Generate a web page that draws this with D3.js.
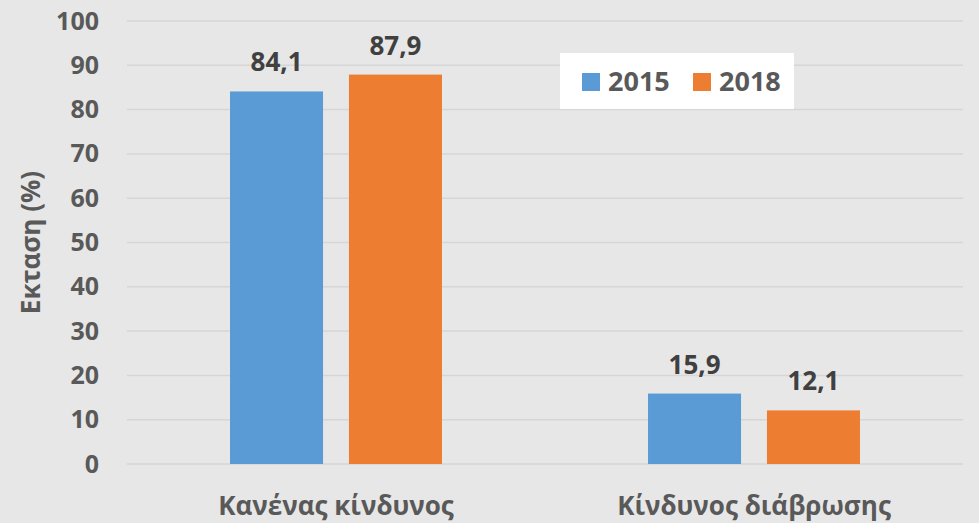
<!doctype html>
<html>
<head>
<meta charset="utf-8">
<script src="https://cdn.jsdelivr.net/npm/d3@7"></script>
<style>
  body { margin: 0; background: #e7e7e7; }
  svg { display: block; font-family: "Open Sans", sans-serif; font-weight: bold; }
</style>
</head>
<body>
<svg width="979" height="523"></svg>
<script>
// categories and values
const categories = ["Κανένας κίνδυνος", "Κίνδυνος διάβρωσης"];
const years = ["2015", "2018"];
const values2015 = [84.1, 15.9];
const values2018 = [87.9, 12.1];
const yTicks = [0, 10, 20, 30, 40, 50, 60, 70, 80, 90, 100];

const colors = { "2015": "#5b9bd5", "2018": "#ed7d31" };

const rows = categories.map((c, i) => ({ cat: c, vals: [
  { year: "2015", v: values2015[i] },
  { year: "2018", v: values2018[i] }
]}));

const svg = d3.select("svg"),
      margin = { top: 21, right: 16, bottom: 59, left: 127 },
      width = 979 - margin.left - margin.right,
      height = 523 - margin.top - margin.bottom;

svg.append("rect").attr("width", 979).attr("height", 523).attr("fill", "#e7e7e7");

const g = svg.append("g").attr("transform", "translate(" + margin.left + "," + margin.top + ")");

const x0 = d3.scaleBand().domain(categories).range([0, width]);
const x1 = d3.scaleBand().domain(years).range([0, x0.bandwidth()])
  .paddingInner(0.218).paddingOuter(0.866);
const y = d3.scaleLinear().domain([0, 100]).range([height, 0]);

// gridlines
g.selectAll("line.grid")
  .data(yTicks)
  .enter()
  .append("line")
    .attr("x1", 0).attr("x2", width)
    .attr("y1", d => y(d)).attr("y2", d => y(d))
    .attr("stroke", "#d6d6d6").attr("stroke-width", 1.5);

// y axis labels
const yAxis = g.append("g").call(d3.axisLeft(y).tickValues(yTicks).tickSize(0).tickPadding(28));
yAxis.select(".domain").remove();
yAxis.selectAll("text").attr("font-size", 25).attr("fill", "#595959")
  .attr("font-family", "Open Sans").attr("font-weight", "bold");

// bars
const grp = g.selectAll("g.cat")
  .data(rows)
  .enter()
  .append("g")
    .attr("transform", d => "translate(" + x0(d.cat) + ",0)");

grp.selectAll("rect")
  .data(d => d.vals)
  .enter()
  .append("rect")
    .attr("x", d => x1(d.year))
    .attr("width", x1.bandwidth())
    .attr("y", d => y(d.v))
    .attr("height", d => height - y(d.v))
    .attr("fill", d => colors[d.year]);

grp.selectAll("text")
  .data(d => d.vals)
  .enter()
  .append("text")
    .attr("x", d => x1(d.year) + x1.bandwidth() / 2)
    .attr("y", d => y(d.v) - 20)
    .attr("text-anchor", "middle")
    .attr("font-size", 26)
    .attr("fill", "#404040")
    .text(d => d.v.toFixed(1).replace(".", ","));

// x axis labels
const xAxis = g.append("g").attr("transform", "translate(0," + height + ")")
  .call(d3.axisBottom(x0).tickSize(0).tickPadding(0));
xAxis.select(".domain").remove();
xAxis.selectAll("text").attr("font-size", 26).attr("fill", "#595959")
  .attr("font-family", "Open Sans").attr("font-weight", "bold")
  .attr("y", 51).attr("dy", 0);

// y title
svg.append("text")
  .attr("transform", "translate(40," + (margin.top + height / 2) + ") rotate(-90)")
  .attr("text-anchor", "middle")
  .attr("font-size", 26)
  .attr("fill", "#595959")
  .text("Εκταση (%)");

// legend
const leg = svg.append("g").attr("transform", "translate(560,53)");
leg.append("rect").attr("width", 234).attr("height", 56).attr("fill", "#ffffff");
years.forEach((yr, i) => {
  const lx = 22 + i * 111;
  leg.append("rect").attr("x", lx).attr("y", 20).attr("width", 18).attr("height", 18).attr("fill", colors[yr]);
  leg.append("text").attr("x", lx + 26).attr("y", 38).attr("font-size", 27)
    .attr("fill", "#595959").text(yr);
});
</script>
</body>
</html>
